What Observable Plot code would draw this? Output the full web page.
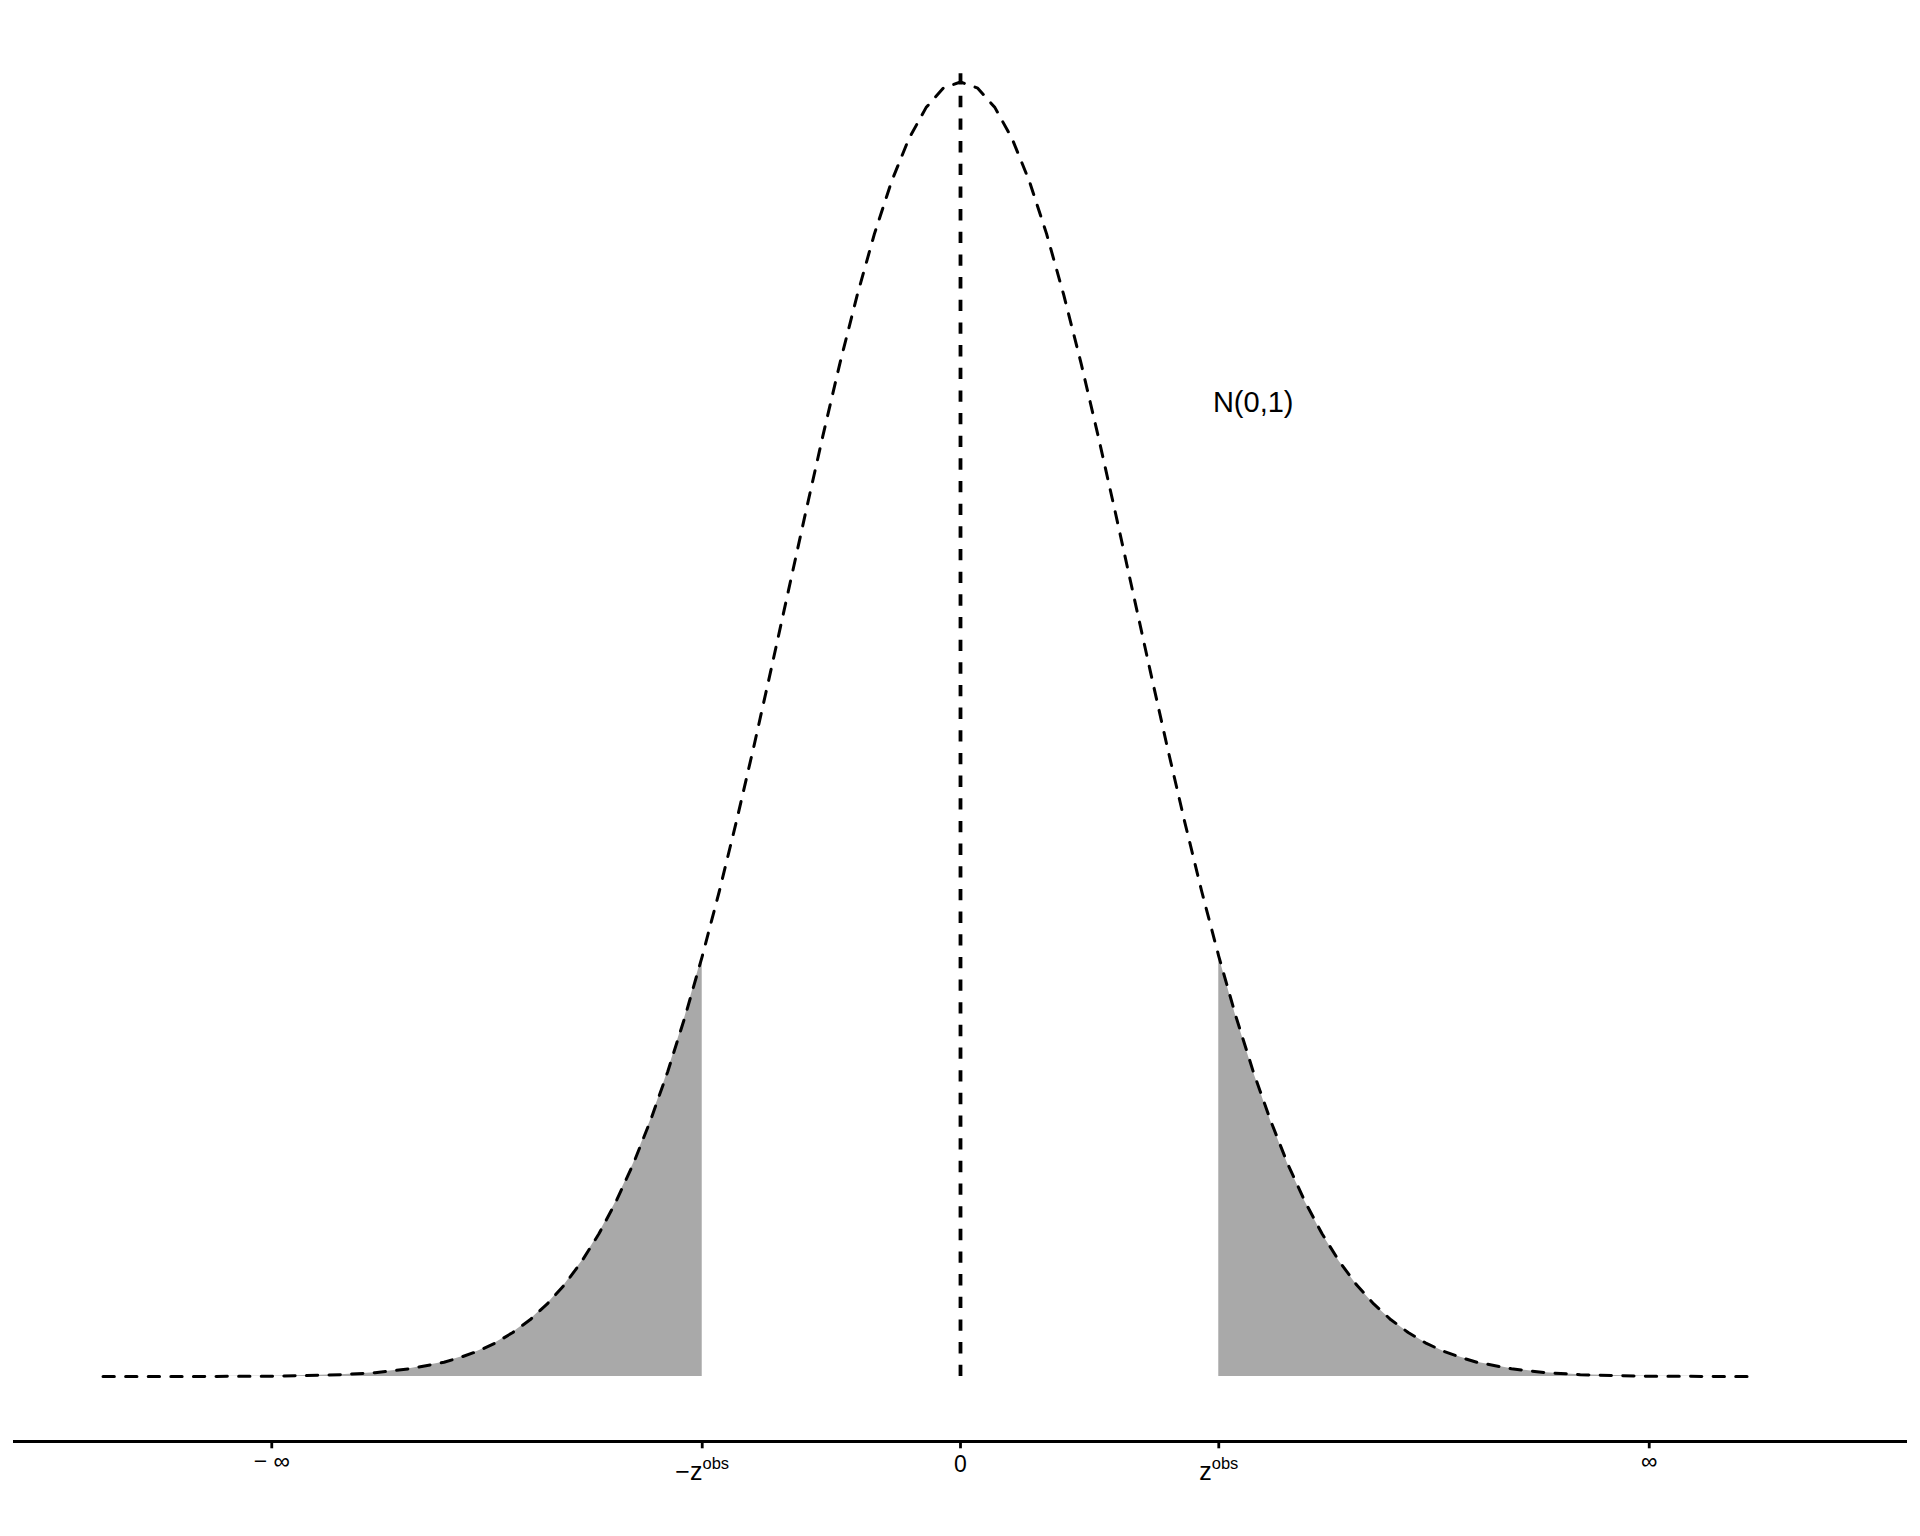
<!DOCTYPE html>
<html>
<head>
<meta charset="utf-8">
<script src="https://cdn.jsdelivr.net/npm/d3@7"></script>
<script src="https://cdn.jsdelivr.net/npm/@observablehq/plot@0.6"></script>
<style>
  html, body { margin: 0; padding: 0; background: #ffffff; }
  #chart svg { display: block; }
</style>
</head>
<body>
<div id="chart"></div>
<script>
// ---- data ----
const zGrid = [
  -4.98, -4.8, -4.6, -4.4, -4.2, -4.0, -3.8, -3.6, -3.4, -3.2, -3.0,
  -2.9, -2.8, -2.7, -2.6, -2.5, -2.4, -2.3, -2.2, -2.1, -2.0,
  -1.9, -1.8, -1.7, -1.6, -1.5, -1.4, -1.3, -1.2, -1.1, -1.0,
  -0.9, -0.8, -0.7, -0.6, -0.5, -0.4, -0.3, -0.2, -0.1,
  0.0,
  0.1, 0.2, 0.3, 0.4, 0.5, 0.6, 0.7, 0.8, 0.9,
  1.0, 1.1, 1.2, 1.3, 1.4, 1.5, 1.6, 1.7, 1.8, 1.9,
  2.0, 2.1, 2.2, 2.3, 2.4, 2.5, 2.6, 2.7, 2.8, 2.9,
  3.0, 3.2, 3.4, 3.6, 3.8, 4.0, 4.2, 4.4, 4.6, 4.62
];
const density = [
  0.0000, 0.0000, 0.0000, 0.0000, 0.0001, 0.0001, 0.0003, 0.0006, 0.0012, 0.0024, 0.0044,
  0.0060, 0.0079, 0.0104, 0.0136, 0.0175, 0.0224, 0.0283, 0.0355, 0.0440, 0.0540,
  0.0656, 0.0790, 0.0940, 0.1109, 0.1295, 0.1497, 0.1714, 0.1942, 0.2179, 0.2420,
  0.2661, 0.2897, 0.3123, 0.3332, 0.3521, 0.3683, 0.3814, 0.3910, 0.3970,
  0.3989,
  0.3970, 0.3910, 0.3814, 0.3683, 0.3521, 0.3332, 0.3123, 0.2897, 0.2661,
  0.2420, 0.2179, 0.1942, 0.1714, 0.1497, 0.1295, 0.1109, 0.0940, 0.0790, 0.0656,
  0.0540, 0.0440, 0.0355, 0.0283, 0.0224, 0.0175, 0.0136, 0.0104, 0.0079, 0.0060,
  0.0044, 0.0024, 0.0012, 0.0006, 0.0003, 0.0001, 0.0001, 0.0000, 0.0000, 0.0000
];
const zObs = 1.5;
const centerLineTop = 0.4015;
const tickValues = [-4, -1.5, 0, 1.5, 4];
const tickBase = ["\u2212 \u221E", "\u2212z", "0", "z", "\u221E"];
const tickSup = ["", "obs", "", "obs", ""];
const annotX = [1.7];
const annotY = [0.3];
const annotText = ["N(0,1)"];

// ---- tables built from the arrays ----
const curve = zGrid.map((z, i) => ({z, d: density[i]}));
const leftTail = curve.filter(p => p.z <= -zObs);
const rightTail = curve.filter(p => p.z >= zObs);
const annot = annotX.map((x, i) => ({x, y: annotY[i], text: annotText[i]}));

const FONT = "'Liberation Sans', Arial, Helvetica, sans-serif";
const tickFont = 23;
const zFont = 25;
const supFont = 16.5;
const ctx = document.createElement("canvas").getContext("2d");
function textWidth(t, size) {
  ctx.font = `${size}px 'Liberation Sans', Arial, sans-serif`;
  return ctx.measureText(t).width;
}
const labels = tickValues.map((x, i) => {
  const base = tickBase[i], sup = tickSup[i];
  const hasSup = !!sup;
  const wb = textWidth(base, hasSup ? zFont : tickFont);
  const ws = hasSup ? textWidth(sup, supFont) : 0;
  const W = wb + ws;
  return {x, base, sup, split: -W / 2 + wb, hasSup, inf: base.includes("\u221E")};
});
const plainLabels = labels.filter(l => !l.hasSup && !l.inf);
const infLabels = labels.filter(l => l.inf);
const supLabels = labels.filter(l => l.hasSup);

const yMin = -0.02, yMax = 0.42;
const dash = "11.3,11.3";
const vDash = "11.33,11.33";

const marks = [
  Plot.areaY(leftTail, {x: "z", y: "d", fill: "#a9a9a9", curve: "linear"}),
  Plot.areaY(rightTail, {x: "z", y: "d", fill: "#a9a9a9", curve: "linear"}),
  Plot.line(curve, {x: "z", y: "d", stroke: "#000000", strokeWidth: 3.0, strokeDasharray: dash, curve: "linear"}),
  Plot.ruleX([{x: 0, y1: 0, y2: centerLineTop}], {x: "x", y1: "y1", y2: "y2", stroke: "#000000", strokeWidth: 3.8, strokeDasharray: vDash}),
  Plot.ruleY([yMin], {stroke: "#000000", strokeWidth: 2.8}),
  Plot.axisX({ticks: tickValues, tickSize: 7.3, tickFormat: () => "", strokeWidth: 2.8, anchor: "bottom", label: null}),
  Plot.text(plainLabels, {x: "x", frameAnchor: "bottom", text: "base", textAnchor: "middle", lineAnchor: "bottom", dy: 30.5, fontSize: tickFont, fill: "#000000"}),
  Plot.text(infLabels, {x: "x", frameAnchor: "bottom", text: "base", textAnchor: "middle", lineAnchor: "bottom", dy: 27.5, fontSize: tickFont, fill: "#000000"}),
  ...supLabels.map(l => Plot.text([l], {x: "x", frameAnchor: "bottom", text: "base", textAnchor: "end", lineAnchor: "bottom", dx: l.split, dy: 38.5, fontSize: zFont, fill: "#000000"})),
  ...supLabels.map(l => Plot.text([l], {x: "x", frameAnchor: "bottom", text: "sup", textAnchor: "start", lineAnchor: "bottom", dx: l.split, dy: 27, fontSize: supFont, fill: "#000000"})),
  Plot.text(annot, {x: "x", y: "y", text: "text", fontSize: 29, textAnchor: "middle", lineAnchor: "middle", fill: "#000000"})
];

const chart = Plot.plot({
  width: 1920,
  height: 1536,
  marginLeft: 13,
  marginRight: 13,
  marginTop: 13,
  marginBottom: 95,
  x: {domain: [-5.5, 5.5], axis: null},
  y: {domain: [yMin, yMax], axis: null},
  style: {fontFamily: FONT, background: "#ffffff", color: "#000000"},
  marks
});
document.getElementById("chart").appendChild(chart);
</script>
</body>
</html>
